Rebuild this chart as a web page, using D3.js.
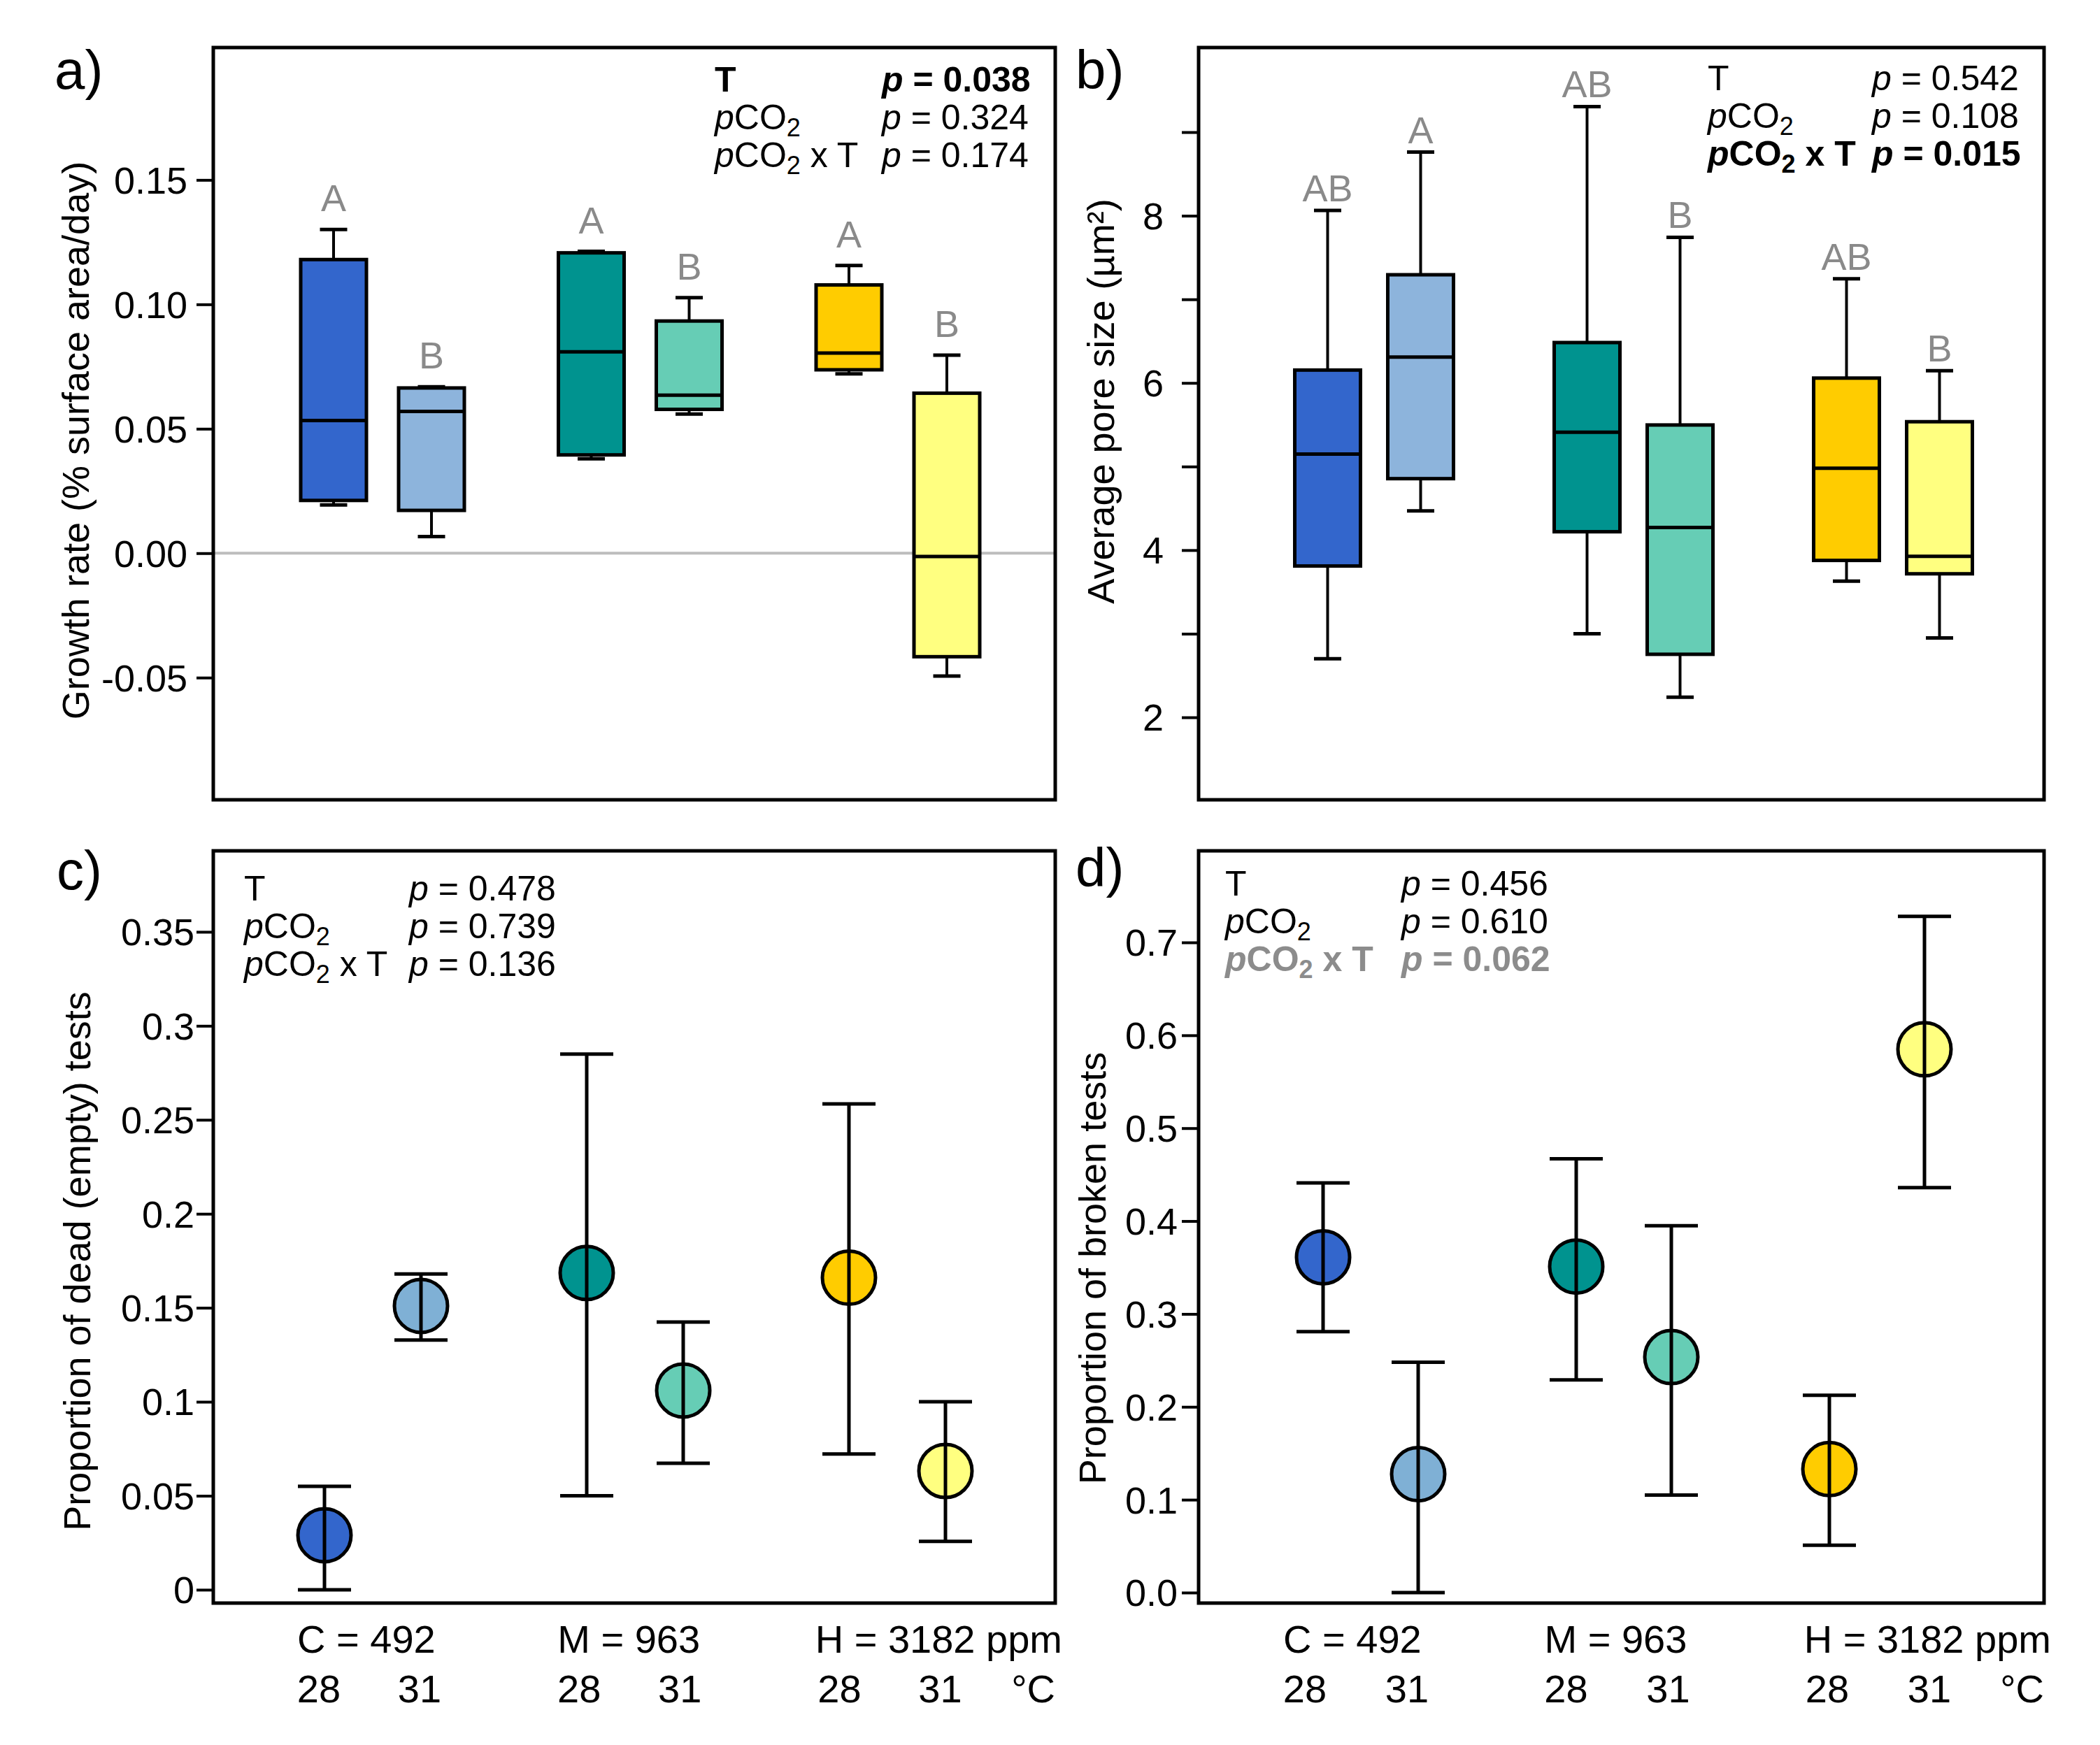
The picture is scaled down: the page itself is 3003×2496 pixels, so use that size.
<!DOCTYPE html>
<html><head><meta charset="utf-8">
<script src="https://cdn.jsdelivr.net/npm/d3@7"></script>
<style>body{margin:0;background:#fff} svg{display:block}</style>
</head><body><svg id="chart" width="3003" height="2496"></svg>
<script>
// ---------------- DATA ----------------
const treatmentCO2 = ["C","C","M","M","H","H"];
const treatmentTemp = ["28","31","28","31","28","31"];
const co2Levels = ["C","M","H"];
const co2Labels = ["C = 492","M = 963","H = 3182 ppm"];
const temperatures = ["28","31"];
const tempUnit = "°C";

const boxColors   = ["#3366CC","#8DB4DC","#00938F","#66CDB5","#FFCC00","#FFFF80"];
const pointColors = ["#3366CC","#7FB0D5","#00938F","#66CDB5","#FFCC00","#FFFF80"];

// a) growth rate boxplots
const growthLow    = [0.0194, 0.0067, 0.0379, 0.0559, 0.0721, -0.0494];
const growthQ1     = [0.0212, 0.0172, 0.0395, 0.0578, 0.0737, -0.0416];
const growthMedian = [0.0533, 0.0570, 0.0809, 0.0635, 0.0804, -0.0013];
const growthQ3     = [0.1180, 0.0664, 0.1207, 0.0933, 0.1078, 0.0643];
const growthHigh   = [0.1301, 0.0669, 0.1213, 0.1027, 0.1156, 0.0796];
const growthLetters = ["A","B","A","B","A","B"];
const growthTicks = [-0.05, 0, 0.05, 0.10, 0.15];
const growthTickLabels = ["-0.05","0.00","0.05","0.10","0.15"];
const growthP = [0.038, 0.324, 0.174];

// b) pore size boxplots
const poreLow    = [2.70, 4.47, 3.00, 2.24, 3.63, 2.95];
const poreQ1     = [3.81, 4.855, 4.22, 2.754, 3.877, 3.717];
const poreMedian = [5.15, 6.31, 5.41, 4.27, 4.98, 3.925];
const poreQ3     = [6.154, 7.294, 6.483, 5.497, 6.058, 5.536];
const poreHigh   = [8.063, 8.761, 9.306, 7.742, 7.245, 6.146];
const poreLetters = ["AB","A","AB","B","AB","B"];
const poreTicks = [2,3,4,5,6,7,8,9];
const poreTickLabels = ["2","","4","","6","","8",""];
const poreP = [0.542, 0.108, 0.015];

// c) proportion dead
const deadMean  = [0.029, 0.151, 0.1685, 0.106, 0.166, 0.0632];
const deadLower = [0.000, 0.1328, 0.050, 0.0673, 0.0722, 0.0257];
const deadUpper = [0.055, 0.168, 0.285, 0.1424, 0.2585, 0.100];
const deadTicks = [0, 0.05, 0.1, 0.15, 0.2, 0.25, 0.3, 0.35];
const deadTickLabels = ["0","0.05","0.1","0.15","0.2","0.25","0.3","0.35"];
const deadP = [0.478, 0.739, 0.136];

// d) proportion broken
const brokenMean  = [0.361, 0.1275, 0.351, 0.2536, 0.133, 0.585];
const brokenLower = [0.281, 0.000, 0.229, 0.105, 0.051, 0.436];
const brokenUpper = [0.441, 0.248, 0.467, 0.395, 0.2124, 0.728];
const brokenTicks = [0, 0.1, 0.2, 0.3, 0.4, 0.5, 0.6, 0.7];
const brokenTickLabels = ["0.0","0.1","0.2","0.3","0.4","0.5","0.6","0.7"];
const brokenP = [0.456, 0.610, 0.062];

const statTerms = ["T","pCO2","pCO2 x T"];
const yTitles = ["Growth rate (% surface area/day)","Average pore size (µm²)",
                 "Proportion of dead (empty) tests","Proportion of broken tests"];
const panelTags = ["a)","b)","c)","d)"];

// ---------------- LAYOUT ----------------
const FONT = 'Arial, "Liberation Sans", Helvetica, sans-serif';
const svg = d3.select("#chart");
svg.append("rect").attr("width",3003).attr("height",2496).attr("fill","#fff");

const layouts = [
  {frame:{l:305,t:68,r:1509,b:1144}, yDomain:[-0.0991,0.2032], groupRange:[547,1284], pairOffset:70,
   tickPad:13, tag:{x:78,y:127}, ylab:{x:127,y:630}, stats:{x1:1022,x2:1261,y:131}, letterGap:26},
  {frame:{l:1714,t:68,r:2923,b:1144}, yDomain:[1.0135,10.012], groupRange:[1965,2707], pairOffset:66.5,
   tickPad:26, tag:{x:1538,y:127}, ylab:{x:1593,y:574}, stats:{x1:2442,x2:2677,y:129}, letterGap:13},
  {frame:{l:305,t:1217,r:1509,b:2293}, yDomain:[-0.0071,0.3931], groupRange:[533,1283], pairOffset:69,
   tickPad:3, tag:{x:81,y:1272}, ylab:{x:129,y:1804}, stats:{x1:349,x2:585,y:1288},
   xlab:{groupRange:[528,1272.5], offset:72}},
  {frame:{l:1714,t:1217,r:2923,b:2293}, yDomain:[-0.0113,0.7986], groupRange:[1960,2684], pairOffset:68,
   tickPad:6, tag:{x:1538,y:1268}, ylab:{x:1581,y:1814}, stats:{x1:1752,x2:2004,y:1281},
   xlab:{groupRange:[1939,2686], offset:73}}
];

function makeX(L){
  const g = d3.scalePoint(co2Levels, L.groupRange);
  const t = d3.scalePoint(temperatures, [-L.pairOffset, L.pairOffset]);
  return i => g(treatmentCO2[i]) + t(treatmentTemp[i]);
}

function drawAxis(L, y, ticks, labels){
  const ax = d3.axisLeft(y).tickValues(ticks).tickFormat((d,i)=>labels[i]).tickSize(24).tickPadding(L.tickPad);
  const g = svg.append("g").attr("transform",`translate(${L.frame.l},0)`).call(ax);
  g.select(".domain").remove();
  g.selectAll(".tick line").attr("stroke","#000").attr("stroke-width",4);
  g.selectAll(".tick text").attr("font-size",54).attr("font-family",FONT).attr("fill","#000").attr("dy","0.35em");
}

function drawFrame(L){
  svg.append("rect").attr("x",L.frame.l).attr("y",L.frame.t)
    .attr("width",L.frame.r-L.frame.l).attr("height",L.frame.b-L.frame.t)
    .attr("fill","none").attr("stroke","#000").attr("stroke-width",5);
}

function drawTagAndTitle(L, k){
  svg.append("text").attr("x",L.tag.x).attr("y",L.tag.y).attr("font-family",FONT)
    .attr("font-size",78).text(panelTags[k]);
  svg.append("text").attr("transform",`translate(${L.ylab.x},${L.ylab.y}) rotate(-90)`)
    .attr("text-anchor","middle").attr("font-family",FONT).attr("font-size",54).text(yTitles[k]);
}

function addTerm(t, term){
  if (term.startsWith("pCO2")) {
    t.append("tspan").attr("font-style","italic").text("p");
    t.append("tspan").text("CO");
    t.append("tspan").attr("font-size",36).attr("dy",10).text("2");
    const rest = term.slice(4);
    if (rest) t.append("tspan").attr("dy",-10).text(rest);
  } else t.append("tspan").text(term);
}

function drawStats(L, pvals){
  pvals.forEach((p,i)=>{
    const bold = p < 0.1;
    const color = p < 0.05 ? "#000" : (p < 0.1 ? "#8C8C8C" : "#000");
    const yy = L.stats.y + i*54;
    const t1 = svg.append("text").attr("x",L.stats.x1).attr("y",yy).attr("font-family",FONT)
      .attr("font-size",50).attr("fill",color).attr("font-weight",bold?"bold":"normal").attr("xml:space","preserve");
    addTerm(t1, statTerms[i]);
    const t2 = svg.append("text").attr("x",L.stats.x2).attr("y",yy).attr("font-family",FONT)
      .attr("font-size",50).attr("fill",color).attr("font-weight",bold?"bold":"normal");
    t2.append("tspan").attr("font-style","italic").text("p");
    t2.append("tspan").text(" = " + d3.format(".3f")(p));
  });
}

function drawBoxes(L, k, low, q1, med, q3, high, letters, ticks, tickLabels, pvals, zeroLine){
  const y = d3.scaleLinear().domain(L.yDomain).range([L.frame.b, L.frame.t]);
  const x = makeX(L);
  const bw = 94, cw = 39;
  drawAxis(L, y, ticks, tickLabels);
  if (zeroLine) svg.append("line").attr("x1",L.frame.l).attr("x2",L.frame.r)
      .attr("y1",y(0)).attr("y2",y(0)).attr("stroke","#BDBDBD").attr("stroke-width",4);
  const g = svg.append("g");
  d3.range(6).forEach(i=>{
    const cx = x(i);
    g.append("line").attr("x1",cx).attr("x2",cx).attr("y1",y(q3[i])).attr("y2",y(high[i]))
      .attr("stroke","#000").attr("stroke-width",4);
    g.append("line").attr("x1",cx).attr("x2",cx).attr("y1",y(q1[i])).attr("y2",y(low[i]))
      .attr("stroke","#000").attr("stroke-width",4);
    [high[i], low[i]].forEach(v=>g.append("line").attr("x1",cx-cw/2).attr("x2",cx+cw/2)
      .attr("y1",y(v)).attr("y2",y(v)).attr("stroke","#000").attr("stroke-width",5));
    g.append("rect").attr("x",cx-bw/2).attr("y",y(q3[i])).attr("width",bw)
      .attr("height",y(q1[i])-y(q3[i])).attr("fill",boxColors[i]).attr("stroke","#000").attr("stroke-width",5);
    g.append("line").attr("x1",cx-bw/2).attr("x2",cx+bw/2).attr("y1",y(med[i])).attr("y2",y(med[i]))
      .attr("stroke","#000").attr("stroke-width",5);
    g.append("text").attr("x",cx).attr("y",y(high[i])-L.letterGap).attr("text-anchor","middle")
      .attr("font-family",FONT).attr("font-size",54).attr("fill","#8A8A8A").text(letters[i]);
  });
  drawStats(L, pvals);
  drawTagAndTitle(L, k);
  drawFrame(L);
}

function drawPoints(L, k, mean, lower, upper, ticks, tickLabels, pvals){
  const y = d3.scaleLinear().domain(L.yDomain).range([L.frame.b, L.frame.t]);
  const x = makeX(L);
  drawAxis(L, y, ticks, tickLabels);
  const g = svg.append("g");
  d3.range(6).forEach(i=>{
    const cx = x(i);
    g.append("circle").attr("cx",cx).attr("cy",y(mean[i])).attr("r",38)
      .attr("fill",pointColors[i]).attr("stroke","#000").attr("stroke-width",5);
    g.append("line").attr("x1",cx).attr("x2",cx).attr("y1",y(upper[i])).attr("y2",y(lower[i]))
      .attr("stroke","#000").attr("stroke-width",5);
    [upper[i], lower[i]].forEach(v=>g.append("line").attr("x1",cx-38).attr("x2",cx+38)
      .attr("y1",y(v)).attr("y2",y(v)).attr("stroke","#000").attr("stroke-width",5));
  });
  // x labels
  const gx = d3.scalePoint(co2Levels, L.xlab.groupRange);
  const tx = d3.scalePoint(temperatures, [-L.xlab.offset, L.xlab.offset]);
  co2Levels.forEach((c,j)=>{
    temperatures.forEach(t=>{
      svg.append("text").attr("x",gx(c)+tx(t)).attr("y",2435).attr("text-anchor","middle")
        .attr("font-family",FONT).attr("font-size",56).text(t);
    });
    const lab = svg.append("text").attr("x",gx(c)+tx("28")-31).attr("y",2364)
      .attr("font-family",FONT).attr("font-size",56).text(co2Labels[j]);
    const w = lab.node().getComputedTextLength();
    const over = gx(c)+tx("28")-31 + w - (L.frame.r + 10);
    if (over > 0) lab.attr("x", gx(c)+tx("28")-31-over);
  });
  svg.append("text").attr("x",L.frame.r).attr("y",2435).attr("text-anchor","end")
    .attr("font-family",FONT).attr("font-size",56).text(tempUnit);
  drawStats(L, pvals);
  drawTagAndTitle(L, k);
  drawFrame(L);
}

drawBoxes(layouts[0], 0, growthLow, growthQ1, growthMedian, growthQ3, growthHigh, growthLetters,
          growthTicks, growthTickLabels, growthP, true);
drawBoxes(layouts[1], 1, poreLow, poreQ1, poreMedian, poreQ3, poreHigh, poreLetters,
          poreTicks, poreTickLabels, poreP, false);
drawPoints(layouts[2], 2, deadMean, deadLower, deadUpper, deadTicks, deadTickLabels, deadP);
drawPoints(layouts[3], 3, brokenMean, brokenLower, brokenUpper, brokenTicks, brokenTickLabels, brokenP);
</script></body></html>
